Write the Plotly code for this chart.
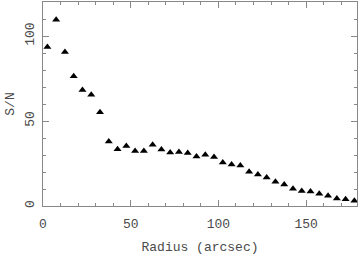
import plotly.graph_objects as go

radius = [2.5, 7.5, 12.5, 17.5, 22.5, 27.5, 32.5, 37.5, 42.5, 47.5, 52.5, 57.5,
          62.5, 67.5, 72.5, 77.5, 82.5, 87.5, 92.5, 97.5, 102.5, 107.5, 112.5, 117.5,
          122.5, 127.5, 132.5, 137.5, 142.5, 147.5, 152.5, 157.5, 162.5, 167.5, 172.5, 177.5]
snr = [93.5, 109.6, 90.6, 76.3, 68.3, 65.5, 55.1, 38.0, 33.4, 35.3, 32.4, 32.4,
       36.0, 33.2, 31.4, 31.7, 31.2, 29.1, 30.2, 28.8, 25.6, 24.4, 23.8, 20.2,
       18.5, 16.7, 14.2, 12.6, 10.1, 8.8, 8.5, 7.2, 6.0, 4.4, 3.9, 3.1]

font = dict(family="Liberation Mono", size=13, color="#4a4a4a")
axcol = "#888"

fig = go.Figure(go.Scatter(
    x=radius, y=snr, mode="markers",
    marker=dict(symbol="triangle-up", size=7, color="black"),
))

common = dict(
    showgrid=False, zeroline=False, showline=True, linecolor=axcol, linewidth=1,
    mirror="ticks", ticks="inside", tickcolor=axcol, ticklen=6, tickwidth=1,
    tickfont=font,
)
fig.update_xaxes(range=[0, 179], dtick=50, tick0=0, ticklabelstandoff=5,
                 minor=dict(dtick=10, ticks="inside", ticklen=3, tickcolor=axcol),
                 title=dict(text="Radius (arcsec)", font=font, standoff=11), **common)
fig.update_yaxes(range=[0, 120], dtick=50, tick0=0, tickangle=-90, ticklabelstandoff=3,
                 minor=dict(dtick=10, ticks="inside", ticklen=3, tickcolor=axcol),
                 title=dict(text="S/N", font=font, standoff=5), **common)
fig.update_layout(
    width=360, height=256, margin=dict(l=43, r=3, t=2, b=50),
    paper_bgcolor="white", plot_bgcolor="white", showlegend=False, font=font,
)
fig.write_html("out.html")
